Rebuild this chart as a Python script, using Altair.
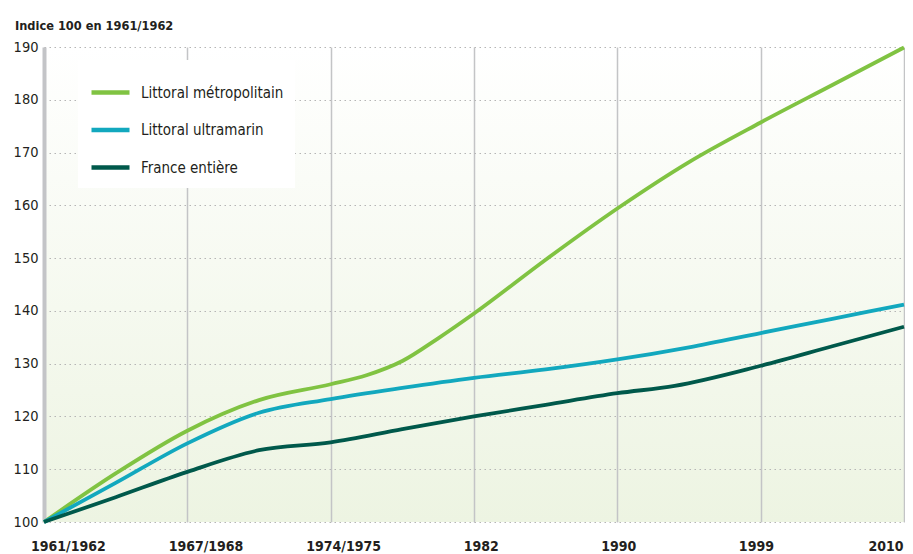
import json
import altair as alt
import pandas as pd

# ---- data ----
periods = ["1961/1962", "1967/1968", "1974/1975", "1982", "1990", "1999", "2010"]
series = ["Littoral métropolitain", "Littoral ultramarin", "France entière"]
colors = ["#80c342", "#12a8be", "#00594b"]

x_metro = [0, 0.5, 1, 1.5, 2, 2.25, 2.5, 2.75, 3, 3.5, 4, 4.5, 5, 5.5, 6]
v_metro = [100, 109.2, 117.3, 123.1, 126.1, 127.8, 130.5, 134.8, 139.5, 149.7, 159.4, 168.2, 175.7, 182.8, 189.9]

x_ultra = [0, 0.5, 1, 1.5, 2, 2.5, 3, 3.5, 4, 4.5, 5, 5.5, 6]
v_ultra = [100, 107.4, 114.9, 120.7, 123.3, 125.4, 127.3, 128.9, 130.8, 133.1, 135.8, 138.5, 141.2]

x_france = [0, 0.5, 1, 1.5, 2, 2.5, 3, 3.5, 4, 4.4, 5, 5.5, 6]
v_france = [100, 104.7, 109.5, 113.6, 115.1, 117.6, 120.0, 122.2, 124.4, 125.8, 129.6, 133.3, 137.0]

# tick positions of the period labels (last one right-aligned at the edge)
label_pos = [0, 1, 2, 3, 4, 5, 6.07]

rows = []
for name, xs, vs in [(series[0], x_metro, v_metro),
                     (series[1], x_ultra, v_ultra),
                     (series[2], x_france, v_france)]:
    for i, (xx, vv) in enumerate(zip(xs, vs)):
        rows.append({"serie": name, "pos": xx, "indice": vv, "ordre": i})
df = pd.DataFrame(rows)
ticks_df = pd.DataFrame({"pos": list(range(len(periods))), "periode": periods})

FONT = "Liberation Sans Narrow, Arial Narrow, DejaVu Sans Condensed, sans-serif"
TXT = "#231f20"
label_expr = json.dumps(periods) + "[round(datum.value)]"

lines = alt.Chart(df).mark_line(interpolate="monotone", strokeWidth=3.8).encode(
    x=alt.X("pos:Q",
            scale=alt.Scale(domain=[0, 6], nice=False, zero=False),
            axis=alt.Axis(orient="bottom", values=list(range(7)), labels=False,
                          ticks=False, domain=False, grid=True,
                          gridColor="#c3c4c6", gridWidth=1.5, title=None)),
    y=alt.Y("indice:Q",
            scale=alt.Scale(domain=[100, 190], nice=False, zero=False),
            axis=alt.Axis(values=list(range(100, 191, 10)), ticks=False,
                          domain=True, domainColor="#c3c4c7", domainWidth=4,
                          grid=True, gridColor="#b5b5b5", gridDash=[1.5, 3.5],
                          gridWidth=1, labelFont=FONT, labelFontSize=14.5,
                          labelColor=TXT, labelPadding=6, title=None)),
    color=alt.Color("serie:N",
                    scale=alt.Scale(domain=series, range=colors),
                    legend=alt.Legend(orient="none", legendX=34, legendY=13,
                                      title=None, direction="vertical",
                                      fillColor="white", padding=11,
                                      symbolType="stroke", symbolSize=1444,
                                      symbolStrokeWidth=4.5, labelFont=FONT,
                                      labelFontSize=15, labelColor=TXT,
                                      labelOffset=9, rowPadding=6.5,
                                      labelLimit=400)),
    order="ordre:Q",
)

labels = alt.Chart(ticks_df).mark_point(opacity=0).encode(
    x=alt.X("pos:Q",
            scale=alt.Scale(domain=[-0.1737, 6.0763], nice=False, zero=False),
            axis=alt.Axis(orient="bottom", values=label_pos,
                          labelExpr=label_expr, grid=False, ticks=False,
                          domain=False, labelFont=FONT, labelFontSize=14,
                          labelFontWeight="bold", labelColor=TXT,
                          labelAlign={"condition": {"test": "datum.value > 6", "value": "right"},
                                      "value": "center"},
                          labelPadding=17, title=None, labelOverlap=False,
                          labelBound=False, labelFlush=False)),
)

grad = ("{gradient: 'linear', x1: 0, y1: 0, x2: 0, y2: 1, "
        "stops: [{offset: 0, color: '#ffffff'}, {offset: 1, color: '#edf4e2'}]}")

chart = alt.layer(lines, labels).resolve_scale(x="independent").properties(
    width=860, height=475,
    autosize=alt.AutoSizeParams(type="none"),
    padding={"left": 36, "top": 39, "right": 1, "bottom": 32},
    title=alt.TitleParams("Indice 100 en 1961/1962", anchor="start",
                          frame="group", dx=-29, offset=6, font=FONT,
                          fontSize=12.7, fontWeight="bold", color=TXT),
).configure_view(stroke=None, fill={"expr": grad})

chart.save("out.html", embed_options={"renderer": "svg", "actions": False})
